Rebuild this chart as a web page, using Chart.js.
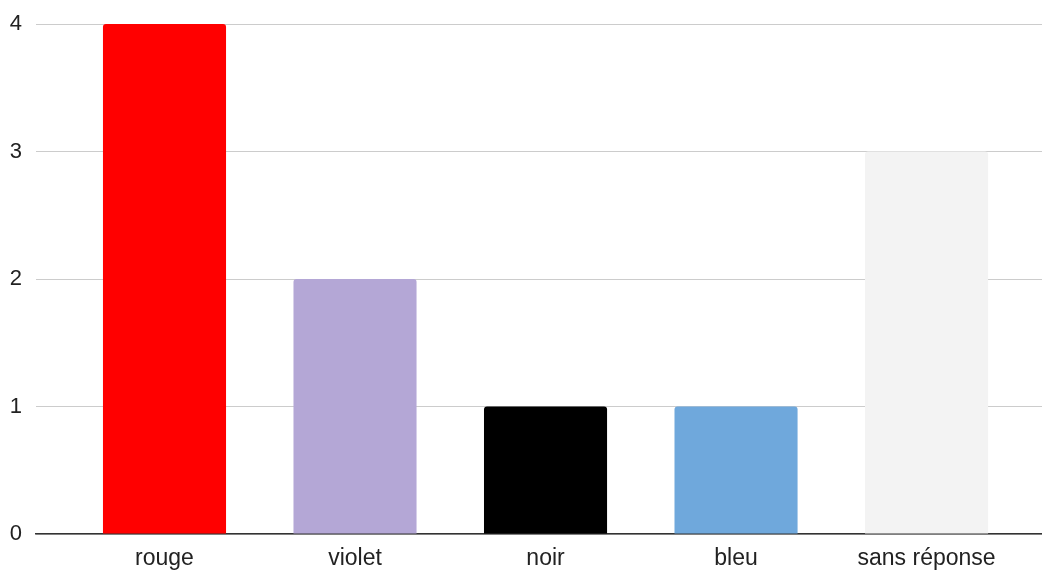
<!DOCTYPE html>
<html lang="fr">
<head>
    <meta charset="UTF-8">
    <title>Réponses</title>
    <script src="https://cdn.jsdelivr.net/npm/chart.js"></script>
    <style>
        html, body { margin: 0; padding: 0; background: #fff; }
        #box { width: 1042px; height: 570px; }
    </style>
</head>
<body>
    <div id="box"><canvas id="chart"></canvas></div>

    <script>
        const labels = ['rouge', 'violet', 'noir', 'bleu', 'sans réponse'];
        const counts = [4, 2, 1, 1, 3];
        const barColors = ['#ff0000', '#b4a7d6', '#000000', '#6fa8dc', '#f3f3f3'];
        const yTicks = [0, 1, 2, 3, 4];

        Chart.defaults.font.family = '"Liberation Sans", Arial, sans-serif';
        Chart.defaults.color = '#222';

        const points = counts.map((v, i) => ({ x: i, y: v }));

        new Chart(document.getElementById('chart'), {
            type: 'bar',
            data: {
                datasets: [{
                    data: points,
                    backgroundColor: barColors,
                    borderRadius: { topLeft: 3, topRight: 3 },
                    borderSkipped: 'start',
                    barPercentage: 0.646,
                    categoryPercentage: 1
                }]
            },
            options: {
                responsive: true,
                maintainAspectRatio: false,
                animation: false,
                layout: { padding: { top: 24, right: 0, bottom: 0, left: 0 } },
                plugins: { legend: { display: false }, tooltip: { enabled: false } },
                scales: {
                    x: {
                        type: 'linear',
                        offset: false,
                        min: -0.6745,
                        max: 4.606,
                        afterBuildTicks: (s) => { s.ticks = labels.map((l, i) => ({ value: i })); },
                        afterFit: (s) => { s.height = 36; s.paddingLeft = 0; s.paddingRight = 0; },
                        grid: { display: false, drawTicks: false },
                        border: { display: true, color: '#333', width: 1.5 },
                        ticks: {
                            padding: 11,
                            font: { size: 23 },
                            color: '#222',
                            maxRotation: 0,
                            callback: (v) => labels[v]
                        }
                    },
                    y: {
                        min: 0,
                        max: 4,
                        afterBuildTicks: (s) => { s.ticks = yTicks.map(v => ({ value: v })); },
                        afterFit: (s) => { s.width = 36; s.paddingTop = 0; s.paddingBottom = 0; },
                        grid: { color: '#cccccc', lineWidth: 1, drawTicks: false },
                        border: { display: false },
                        ticks: { padding: 14, font: { size: 22 }, color: '#222' }
                    }
                }
            }
        });
    </script>
</body>
</html>
